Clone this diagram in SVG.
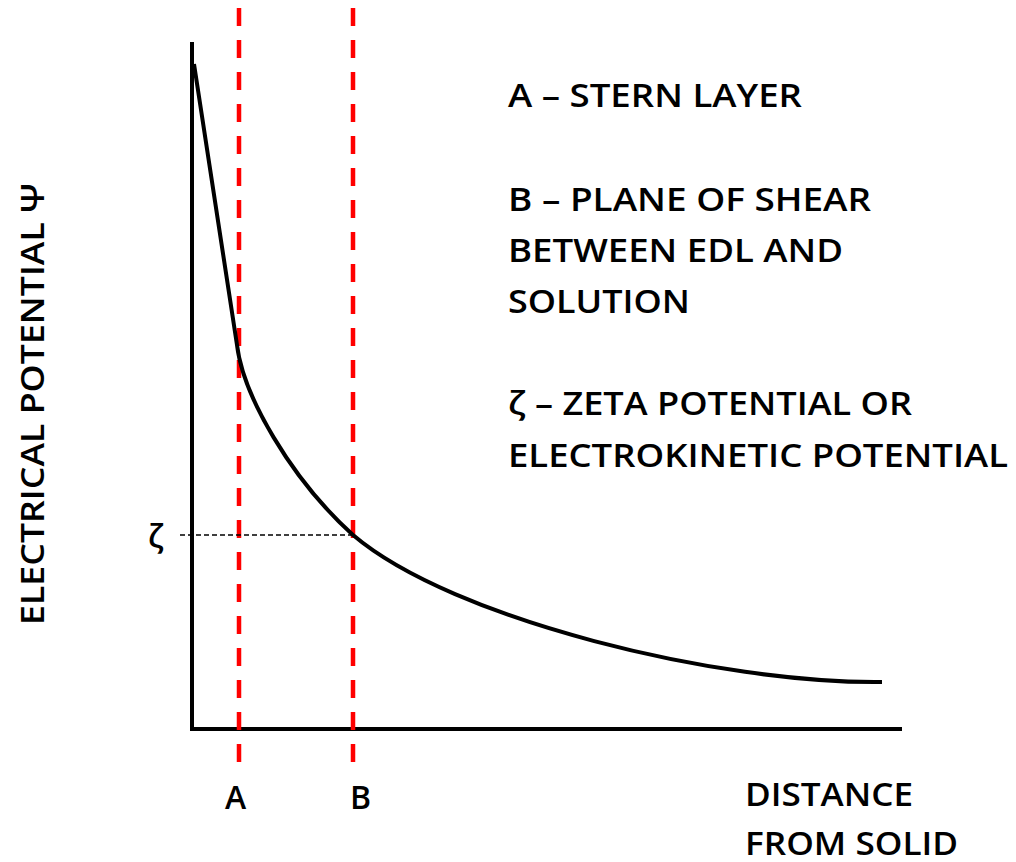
<svg xmlns="http://www.w3.org/2000/svg" width="1016" height="862" viewBox="0 0 1016 862">
<style>
.t{font-family:"Open Sans","Liberation Sans",sans-serif;font-size:32px;font-weight:600;fill:#000}
.red{stroke:#ff0000;stroke-width:4.5;stroke-dasharray:18 14;fill:none}
.ax{stroke:#000;stroke-width:4;fill:none}
</style>
<rect width="1016" height="862" fill="#fff"/>
<g id="axes">
<polyline class="ax" points="192,42 192,729 902,729"/>
</g>
<g id="connectors">
<line class="red" x1="239" y1="8" x2="239" y2="764"/>
<line class="red" x1="353" y1="8" x2="353" y2="764"/>
<line x1="180" y1="535" x2="353" y2="535" stroke="#000" stroke-width="1.6" stroke-dasharray="5 3"/>
<path d="M194,64 L237,345 C243,395 290,478 353,535 C453,620 720,684 882,682" fill="none" stroke="#000" stroke-width="4"/>
</g>
<g id="labels">
<text class="t" x="148" y="548">ζ</text>
<text class="t" x="225" y="809">A</text>
<text class="t" x="350" y="809">B</text>
<text class="t" transform="translate(44,625) rotate(-90)" textLength="442" lengthAdjust="spacingAndGlyphs">ELECTRICAL POTENTIAL Ψ</text>
<text class="t" x="745" y="806" textLength="168" lengthAdjust="spacingAndGlyphs">DISTANCE</text>
<text class="t" x="745" y="855" textLength="213" lengthAdjust="spacingAndGlyphs">FROM SOLID</text>
</g>
<g id="legend">
<text class="t" x="508" y="107" textLength="294" lengthAdjust="spacingAndGlyphs">A – STERN LAYER</text>
<text class="t" x="508" y="211" textLength="363" lengthAdjust="spacingAndGlyphs">B – PLANE OF SHEAR</text>
<text class="t" x="508" y="262" textLength="335" lengthAdjust="spacingAndGlyphs">BETWEEN EDL AND</text>
<text class="t" x="508" y="313" textLength="182" lengthAdjust="spacingAndGlyphs">SOLUTION</text>
<text class="t" x="508" y="415" textLength="404" lengthAdjust="spacingAndGlyphs">ζ – ZETA POTENTIAL OR</text>
<text class="t" x="508" y="467" textLength="500" lengthAdjust="spacingAndGlyphs">ELECTROKINETIC POTENTIAL</text>
</g>
</svg>
